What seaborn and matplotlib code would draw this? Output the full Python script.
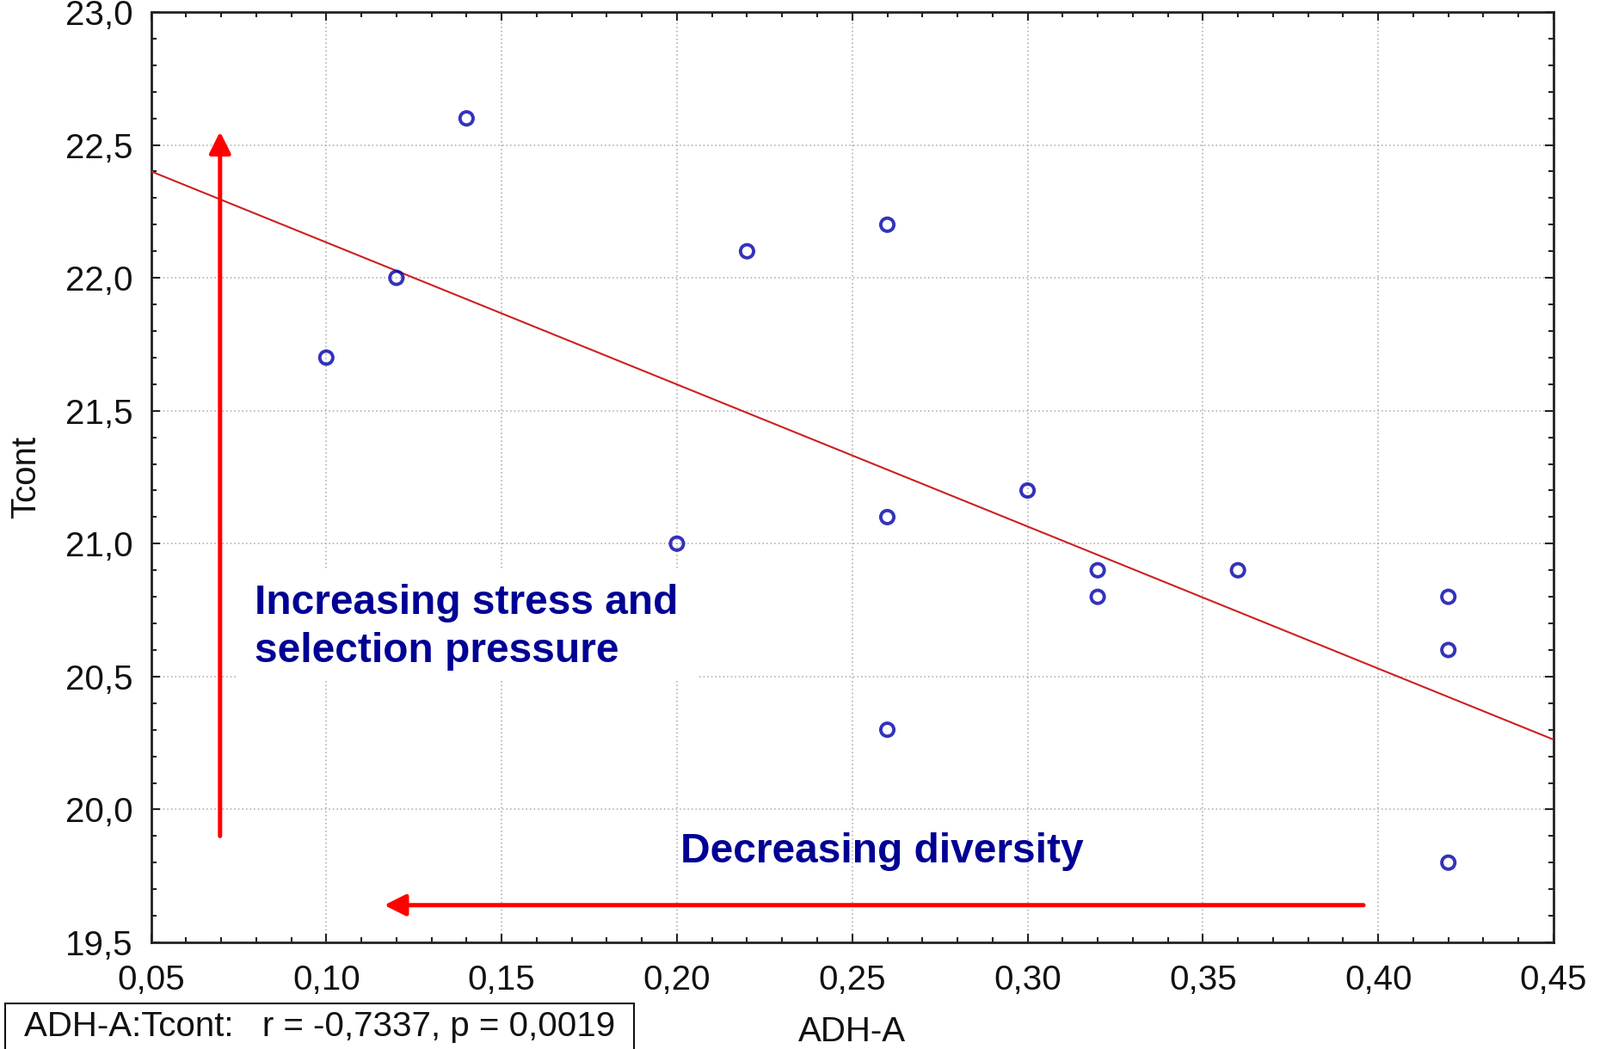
import numpy as np
import pandas as pd
import matplotlib
matplotlib.use("Agg")
import matplotlib.pyplot as plt
import seaborn as sns
from matplotlib.patches import Rectangle
from matplotlib.ticker import FixedLocator, FixedFormatter, MultipleLocator

# ---- data ----
adh_a = [0.10, 0.12, 0.14, 0.20, 0.22, 0.26, 0.26, 0.26, 0.30, 0.32, 0.32, 0.36, 0.42, 0.42, 0.42]
tcont = [21.7, 22.0, 22.6, 21.0, 22.1, 22.2, 21.1, 20.3, 21.2, 20.9, 20.8, 20.9, 20.8, 20.6, 19.8]

xticks = [0.05, 0.10, 0.15, 0.20, 0.25, 0.30, 0.35, 0.40, 0.45]
xtick_labels = ["0,05", "0,10", "0,15", "0,20", "0,25", "0,30", "0,35", "0,40", "0,45"]
yticks = [19.5, 20.0, 20.5, 21.0, 21.5, 22.0, 22.5, 23.0]
ytick_labels = ["19,5", "20,0", "20,5", "21,0", "21,5", "22,0", "22,5", "23,0"]

x_label = "ADH-A"
y_label = "Tcont"
stat_text = "ADH-A:Tcont:   r = -0,7337, p = 0,0019"
note_up = "Increasing stress and\nselection pressure"
note_left = "Decreasing diversity"

df = pd.DataFrame({"ADH-A": adh_a, "Tcont": tcont})

# ---- style ----
sns.set_style("ticks")
plt.rcParams["font.family"] = ["Liberation Sans", "DejaVu Sans"]

fig = plt.figure(figsize=(18.6, 12.2), dpi=100)
ax = fig.add_axes([175.5 / 1860, 1 - 1096 / 1220, 1630.5 / 1860, 1082 / 1220])

ax.set_xlim(0.05, 0.45)
ax.set_ylim(19.5, 23.0)

sns.regplot(data=df, x="ADH-A", y="Tcont", ax=ax, ci=None, truncate=False,
            scatter_kws=dict(s=120, facecolors="none", edgecolors="#0000AA",
                             linewidths=2.8, zorder=5),
            line_kws=dict(color="#CC2020", lw=1.5, zorder=4))
ax.set_xlim(0.05, 0.45)
ax.set_ylim(19.5, 23.0)

# ticks
ax.xaxis.set_major_locator(FixedLocator(xticks))
ax.xaxis.set_major_formatter(FixedFormatter(xtick_labels))
ax.yaxis.set_major_locator(FixedLocator(yticks))
ax.yaxis.set_major_formatter(FixedFormatter(ytick_labels))
ax.xaxis.set_minor_locator(MultipleLocator(0.01))
ax.yaxis.set_minor_locator(MultipleLocator(0.1))
ax.tick_params(which="both", direction="in", top=True, right=True, colors="#222222",
               width=1.5)
ax.tick_params(which="major", length=7)
ax.tick_params(which="minor", length=4)
ax.tick_params(axis="x", which="major", labelsize=29, pad=18, labelcolor="#111111")
ax.tick_params(axis="y", which="major", labelsize=29, pad=15, labelcolor="#111111")

for sp in ax.spines.values():
    sp.set_visible(True)
    sp.set_linewidth(2.0)
    sp.set_color("#222222")

ax.grid(True, which="major", color="#a8a8a8", linestyle=(0, (1, 2)), linewidth=1.1)
ax.set_axisbelow(True)

ax.set_xlabel(x_label, fontsize=29, va="center", color="#111111")
ax.set_ylabel(y_label, fontsize=29, va="center", color="#111111")
ax.xaxis.set_label_coords(0.5, -0.0961)
ax.yaxis.set_label_coords(-0.0892, 0.5)

# white backing box for annotation text
ax.add_patch(Rectangle((0.0744, 20.483), 0.2057 - 0.0744, 20.907 - 20.483,
                       facecolor="white", edgecolor="none", zorder=2))
ax.text(0.0796, 20.685, note_up, fontsize=34.5, fontweight="bold", color="#000094",
        ha="left", va="center", linespacing=1.3, zorder=6)
ax.text(0.2584, 19.84, note_left, fontsize=34.5, fontweight="bold", color="#000094",
        ha="center", va="center", zorder=6)

# red arrows
ax.annotate("", xy=(0.0697, 22.55), xytext=(0.0697, 19.90),
            arrowprops=dict(arrowstyle="-|>,head_length=1.5,head_width=0.75",
                            color="#FF0000", lw=3.6, mutation_scale=10,
                            shrinkA=0, shrinkB=0), zorder=6)
ax.annotate("", xy=(0.1165, 19.64), xytext=(0.3958, 19.64),
            arrowprops=dict(arrowstyle="-|>,head_length=1.5,head_width=0.75",
                            color="#FF0000", lw=3.6, mutation_scale=10,
                            shrinkA=0, shrinkB=0), zorder=6)

# stats box at bottom-left
fig.patches.append(Rectangle((6 / 1860, -0.02), (737 - 6) / 1860, 0.02 + (1220 - 1167) / 1220,
                             transform=fig.transFigure, facecolor="white",
                             edgecolor="#111111", linewidth=1.5, figure=fig))
fig.text(28 / 1860, 1 - 1194 / 1220, stat_text, fontsize=29, ha="left", va="center",
         color="#111111")

fig.savefig("out.png", dpi=100)
